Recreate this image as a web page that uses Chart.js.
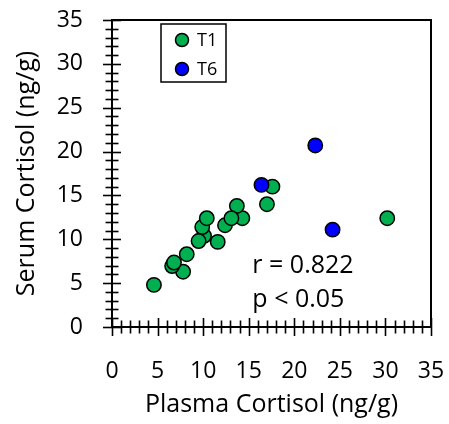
<!DOCTYPE html>
<html>
<head>
<meta charset="utf-8">
<script src="https://cdn.jsdelivr.net/npm/chart.js@4.4.1/dist/chart.umd.min.js"></script>
<style>
  html, body { margin: 0; padding: 0; background: #fff; }
  #wrap { width: 449px; height: 424px; }
</style>
</head>
<body>
<div id="wrap"><canvas id="chart" width="449" height="424"></canvas></div>
<script>
// Data
const plasmaT1 = [4.6, 7.8, 6.6, 6.8, 8.2, 10.1, 9.5, 9.9, 10.4, 11.6, 12.4, 14.3, 13.7, 13.1, 17.0, 17.6, 30.2];
const serumT1  = [4.8, 6.3, 6.95, 7.35, 8.3, 10.4, 9.8, 11.4, 12.4, 9.7, 11.6, 12.4, 13.8, 12.4, 14.0, 16.0, 12.4];
const plasmaT6 = [16.4, 22.3, 24.2];
const serumT6  = [16.2, 20.7, 11.1];

const axisMin = 0;
const axisMax = 35;
const majorStep = 5;
const minorStep = 1;

const seriesNames = ['T1', 'T6'];
const seriesColors = ['#00B050', '#0000FF'];
const statLines = ['r = 0.822', 'p < 0.05'];

const fontFamily = '"Open Sans", sans-serif';

function toPoints(xs, ys) {
    return xs.map((v, i) => ({ x: v, y: ys[i] }));
}

// Crossing major/minor ticks, frame, legend box and stats text
const decorations = {
    id: 'decorations',
    afterDraw(chart) {
        const { ctx, chartArea: a } = chart;
        const xs = chart.scales.x;
        const ys = chart.scales.y;
        ctx.save();

        ctx.strokeStyle = '#000';
        ctx.lineWidth = 1.6;
        for (let v = axisMin; v <= axisMax; v += minorStep) {
            const len = v % majorStep === 0 ? 9 : 6.5;
            const px = Math.round(xs.getPixelForValue(v)) + 0.5;
            ctx.beginPath();
            ctx.moveTo(px, a.bottom - len);
            ctx.lineTo(px, a.bottom + len);
            ctx.stroke();
            const py = Math.round(ys.getPixelForValue(v)) + 0.5;
            ctx.beginPath();
            ctx.moveTo(a.left - len, py);
            ctx.lineTo(a.left + len, py);
            ctx.stroke();
        }

        ctx.lineWidth = 2;
        ctx.strokeRect(a.left, a.top, a.right - a.left, a.bottom - a.top);

        // legend
        const bx = a.left + 49, by = a.top + 4, bw = 65, bh = 58;
        ctx.lineWidth = 1.5;
        ctx.strokeRect(bx, by, bw, bh);
        ctx.font = '18px ' + fontFamily;
        ctx.textBaseline = 'middle';
        ctx.textAlign = 'left';
        seriesNames.forEach((name, i) => {
            const cy = by + 16 + i * 29;
            ctx.beginPath();
            ctx.arc(bx + 21, cy, 6.5, 0, Math.PI * 2);
            ctx.fillStyle = seriesColors[i];
            ctx.fill();
            ctx.lineWidth = 1.5;
            ctx.stroke();
            ctx.fillStyle = '#000';
            ctx.fillText(name, bx + 36, cy + 1);
        });

        // stats
        ctx.font = '25px ' + fontFamily;
        ctx.textBaseline = 'alphabetic';
        const tx = xs.getPixelForValue(15.4);
        statLines.forEach((t, i) => {
            ctx.fillText(t, tx, ys.getPixelForValue(6.2) + i * 34);
        });

        ctx.restore();
    }
};

const hiddenGrid = (len) => ({
    display: true,
    drawOnChartArea: false,
    drawTicks: true,
    tickLength: len,
    color: 'rgba(0,0,0,0)'
});

const ctx = document.getElementById('chart').getContext('2d');

new Chart(ctx, {
    type: 'scatter',
    data: {
        datasets: [
            {
                label: seriesNames[0],
                data: toPoints(plasmaT1, serumT1),
                backgroundColor: seriesColors[0],
                borderColor: '#000',
                borderWidth: 1.5,
                pointRadius: 7.2,
                order: 2
            },
            {
                label: seriesNames[1],
                data: toPoints(plasmaT6, serumT6),
                backgroundColor: seriesColors[1],
                borderColor: '#000',
                borderWidth: 1.5,
                pointRadius: 7.2,
                order: 1
            }
        ]
    },
    options: {
        responsive: false,
        animation: false,
        layout: { autoPadding: false, padding: { top: 20, right: 18, bottom: 0, left: 0 } },
        plugins: {
            legend: { display: false },
            tooltip: { enabled: false }
        },
        scales: {
            x: {
                type: 'linear',
                min: axisMin,
                max: axisMax,
                grid: hiddenGrid(31),
                border: { display: false },
                ticks: {
                    stepSize: majorStep,
                    color: '#000',
                    font: { family: fontFamily, size: 23 },
                    padding: 0
                },
                title: {
                    display: true,
                    text: 'Plasma Cortisol (ng/g)',
                    color: '#000',
                    font: { family: fontFamily, size: 25 },
                    padding: { top: 5 }
                },
                afterFit(scale) { scale.height = 97; }
            },
            y: {
                type: 'linear',
                min: axisMin,
                max: axisMax,
                grid: hiddenGrid(29),
                border: { display: false },
                ticks: {
                    stepSize: majorStep,
                    color: '#000',
                    font: { family: fontFamily, size: 23 },
                    padding: 0
                },
                title: {
                    display: true,
                    text: 'Serum Cortisol (ng/g)',
                    color: '#000',
                    font: { family: fontFamily, size: 25 },
                    padding: { top: 12 }
                },
                afterFit(scale) { scale.width = 112; }
            }
        }
    },
    plugins: [decorations]
});
</script>
</body>
</html>
